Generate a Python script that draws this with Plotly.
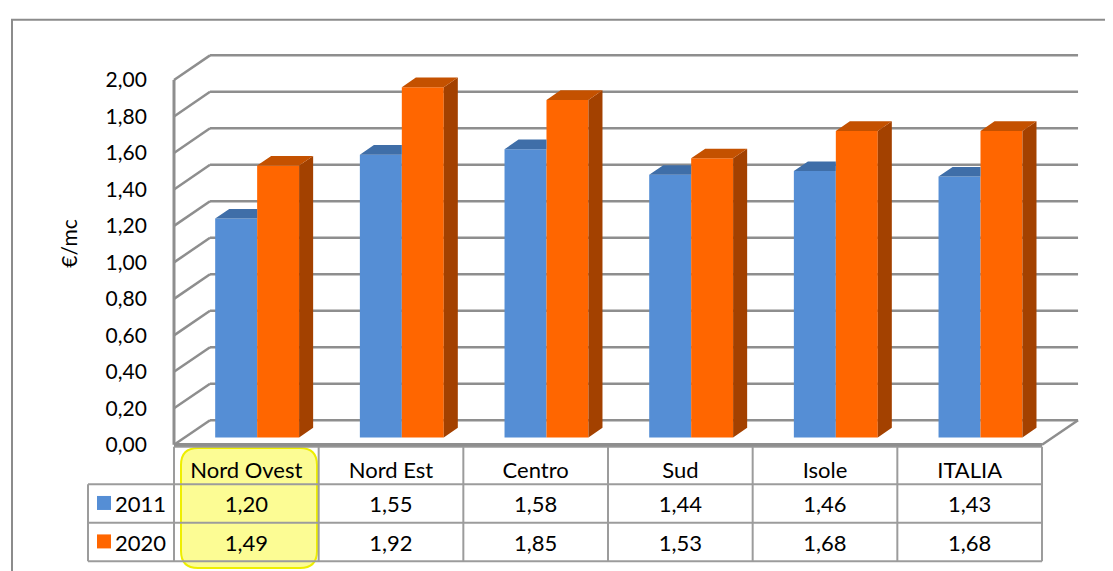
import plotly.graph_objects as go

# ---------------- data ----------------
categories = ["Nord Ovest", "Nord Est", "Centro", "Sud", "Isole", "ITALIA"]
years = ["2011", "2020"]
v2011 = [1.20, 1.55, 1.58, 1.44, 1.46, 1.43]
v2020 = [1.49, 1.92, 1.85, 1.53, 1.68, 1.68]
ytick_vals = [0.0, 0.2, 0.4, 0.6, 0.8, 1.0, 1.2, 1.4, 1.6, 1.8, 2.0]
y_title = "€/mc"

# ---------------- style / geometry ----------------
W, H = 1113, 571
OFFX, OFFY = 8, 0  # page offset of the figure in the screenshot


def fx(px):
    return (px - OFFX) / W


def fy(py):
    return 1 - (py - OFFY) / H


FONT = "Lato"
FS = 21
FS_TAB = 22
blue_front, blue_top = "#558ed5", "#3f6ea8"
org_front, org_top, org_side = "#ff6600", "#c45100", "#a34100"
grid_col = "#8e8e8e"
tab_col = "#9c9c9c"

DX, DY = 0.249, 0.135          # depth of the 3D box in data units
F_FRONT, F_DEPTH = 0.30, 0.39  # bar position / depth inside the box
BW = 0.29                      # bar width (category units)

px_per_x = 144.67
px_per_y = 185.0
x0_px, y0_px = 174.0, 443.0
xr = [-0.02, 6.3]
yr = [-0.02, 2.2]
xdom = [fx(x0_px + xr[0] * px_per_x), fx(x0_px + xr[1] * px_per_x)]
ydom = [fy(y0_px - yr[0] * px_per_y), fy(y0_px - yr[1] * px_per_y)]

fig = go.Figure()

n = len(categories)
bx = F_FRONT * DX
by = F_FRONT * DY
ddx = F_DEPTH * DX
ddy = F_DEPTH * DY

centers_b = [i + 0.5 - BW / 2 + bx for i in range(n)]
centers_o = [i + 0.5 + BW / 2 + bx for i in range(n)]

fig.add_trace(go.Bar(x=centers_b, y=v2011, base=by, width=BW, name=years[0],
                     marker=dict(color=blue_front, line=dict(width=0)),
                     hoverinfo="skip", showlegend=False))
fig.add_trace(go.Bar(x=centers_o, y=v2020, base=by, width=BW, name=years[1],
                     marker=dict(color=org_front, line=dict(width=0)),
                     hoverinfo="skip", showlegend=False))

# top faces of 2011 bars (part visible in front of 2020 bars)
tx, ty = [], []
for c, v in zip(centers_b, v2011):
    l, r, t = c - BW / 2, c + BW / 2, v + by
    tx += [l, l + ddx, r, r, l, None]
    ty += [t, t + ddy, t + ddy, t, t, None]
fig.add_trace(go.Scatter(x=tx, y=ty, mode="lines", fill="toself", fillcolor=blue_top,
                         line=dict(width=0, color=blue_top), hoverinfo="skip", showlegend=False))

# side and top faces of 2020 bars
sx, sy, ox, oy = [], [], [], []
for c, v in zip(centers_o, v2020):
    l, r, t = c - BW / 2, c + BW / 2, v + by
    sx += [r, r + ddx, r + ddx, r, r, None]
    sy += [by, by + ddy, t + ddy, t, by, None]
    ox += [l, l + ddx, r + ddx, r, l, None]
    oy += [t, t + ddy, t + ddy, t, t, None]
fig.add_trace(go.Scatter(x=sx, y=sy, mode="lines", fill="toself", fillcolor=org_side,
                         line=dict(width=0, color=org_side), hoverinfo="skip", showlegend=False))
fig.add_trace(go.Scatter(x=ox, y=oy, mode="lines", fill="toself", fillcolor=org_top,
                         line=dict(width=0, color=org_top), hoverinfo="skip", showlegend=False))

# ---------------- 3D walls (below traces) ----------------
shapes = []
# outer chart border
shapes.append(dict(type="rect", xref="paper", yref="paper", x0=fx(12), x1=1.05,
                   y0=-0.05, y1=fy(12), line=dict(color="#8c8c8c", width=2),
                   fillcolor="rgba(0,0,0,0)", layer="below"))
for v in ytick_vals:
    shapes.append(dict(type="line", xref="x", yref="y", x0=DX, x1=n + DX, y0=v + DY, y1=v + DY,
                       line=dict(color=grid_col, width=2.5), layer="below"))
    shapes.append(dict(type="line", xref="x", yref="y", x0=0, x1=DX, y0=v, y1=v + DY,
                       line=dict(color=grid_col, width=2.5), layer="below"))
shapes.append(dict(type="line", xref="x", yref="y", x0=0, x1=0, y0=0, y1=ytick_vals[-1],
                   line=dict(color=grid_col, width=3), layer="below"))
shapes.append(dict(type="line", xref="x", yref="y", x0=0, x1=n, y0=0, y1=0,
                   line=dict(color=grid_col, width=3.5), layer="below"))
shapes.append(dict(type="line", xref="x", yref="y", x0=n, x1=n + DX, y0=0, y1=DY,
                   line=dict(color=grid_col, width=2.5), layer="below"))

# ---------------- data table ----------------
tab_left, tab_right = 88, 1042
col0_w = 86
col_w = (tab_right - tab_left - col0_w) / n
head_top, row1_top, row2_top, tab_bot = 445, 483, 522, 561

# yellow highlight around first category column of the table
hw, hh, rr = 68, 60, 17
path = (f"M {-hw + rr},{-hh} L {hw - rr},{-hh} Q {hw},{-hh} {hw},{-hh + rr} "
        f"L {hw},{hh - rr} Q {hw},{hh} {hw - rr},{hh} L {-hw + rr},{hh} "
        f"Q {-hw},{hh} {-hw},{hh - rr} L {-hw},{-hh + rr} Q {-hw},{-hh} {-hw + rr},{-hh} Z")
shapes.append(dict(type="path", xref="paper", yref="paper", xsizemode="pixel", ysizemode="pixel",
                   xanchor=fx(249), yanchor=fy(507), path=path,
                   fillcolor="#fcfc94", line=dict(color="#eeee00", width=2), layer="below"))

# table grid lines
tline = dict(color=tab_col, width=2)
for yy in [row1_top, row2_top, tab_bot]:
    shapes.append(dict(type="line", xref="paper", yref="paper", x0=fx(tab_left), x1=fx(tab_right),
                       y0=fy(yy), y1=fy(yy), line=tline, layer="below"))
shapes.append(dict(type="line", xref="paper", yref="paper", x0=fx(tab_left + col0_w), x1=fx(tab_right),
                   y0=fy(head_top), y1=fy(head_top), line=tline, layer="below"))
shapes.append(dict(type="line", xref="paper", yref="paper", x0=fx(tab_left), x1=fx(tab_left),
                   y0=fy(row1_top), y1=fy(tab_bot), line=tline, layer="below"))
for k in range(n + 1):
    xx = tab_left + col0_w + k * col_w
    shapes.append(dict(type="line", xref="paper", yref="paper", x0=fx(xx), x1=fx(xx),
                       y0=fy(head_top), y1=fy(tab_bot), line=tline, layer="below"))

# legend keys of the data table
for k, col in enumerate([blue_front, org_front]):
    cy = [502, 541][k]
    shapes.append(dict(type="rect", xref="paper", yref="paper", xsizemode="pixel", ysizemode="pixel",
                       xanchor=fx(104), yanchor=fy(cy), x0=-7, x1=7, y0=-7, y1=7,
                       fillcolor=col, line=dict(width=0), layer="below"))


def fmt(v):
    return f"{v:.2f}".replace(".", ",")


header_vals = [""] + [c.replace(" ", "\u00a0") for c in categories]
cell_vals = [years] + [[fmt(a), fmt(b)] for a, b in zip(v2011, v2020)]

SH = 7  # shift of table text
head_h = 34
fig.add_trace(go.Table(
    domain=dict(x=[fx(tab_left), fx(tab_right)],
                y=[fy(head_top + SH + head_h + 78), fy(head_top + SH)]),
    columnwidth=[col0_w] + [col_w] * n,
    header=dict(values=header_vals, height=head_h, align="center",
                fill=dict(color="rgba(0,0,0,0)"),
                line=dict(color="rgba(0,0,0,0)", width=0),
                font=dict(family=FONT, size=FS_TAB, color="black")),
    cells=dict(values=cell_vals, height=39, align=["right"] + ["center"] * n,
               fill=dict(color="rgba(0,0,0,0)"),
               line=dict(color="rgba(0,0,0,0)", width=0),
               font=dict(family=FONT, size=FS_TAB, color="black")),
))

fig.update_layout(
    width=W, height=H,
    margin=dict(l=0, r=0, t=0, b=0),
    paper_bgcolor="white", plot_bgcolor="rgba(0,0,0,0)",
    font=dict(family=FONT, size=FS, color="black"),
    separators=",.",
    barmode="overlay",
    showlegend=False,
    shapes=shapes,
    xaxis=dict(domain=xdom, range=xr, visible=False, fixedrange=True),
    yaxis=dict(domain=ydom, range=yr, tickvals=ytick_vals, tickformat=".2f",
               showgrid=False, zeroline=False, showline=False,
               ticks="outside", ticklen=19, tickcolor="rgba(0,0,0,0)",
               tickfont=dict(family=FONT, size=FS, color="black"), fixedrange=True),
    annotations=[dict(text=y_title, xref="paper", yref="paper", x=fx(69), y=fy(239),
                      textangle=-90, showarrow=False, xanchor="center", yanchor="middle",
                      font=dict(family=FONT, size=FS, color="black"))],
)

fig.write_html("out.html")
